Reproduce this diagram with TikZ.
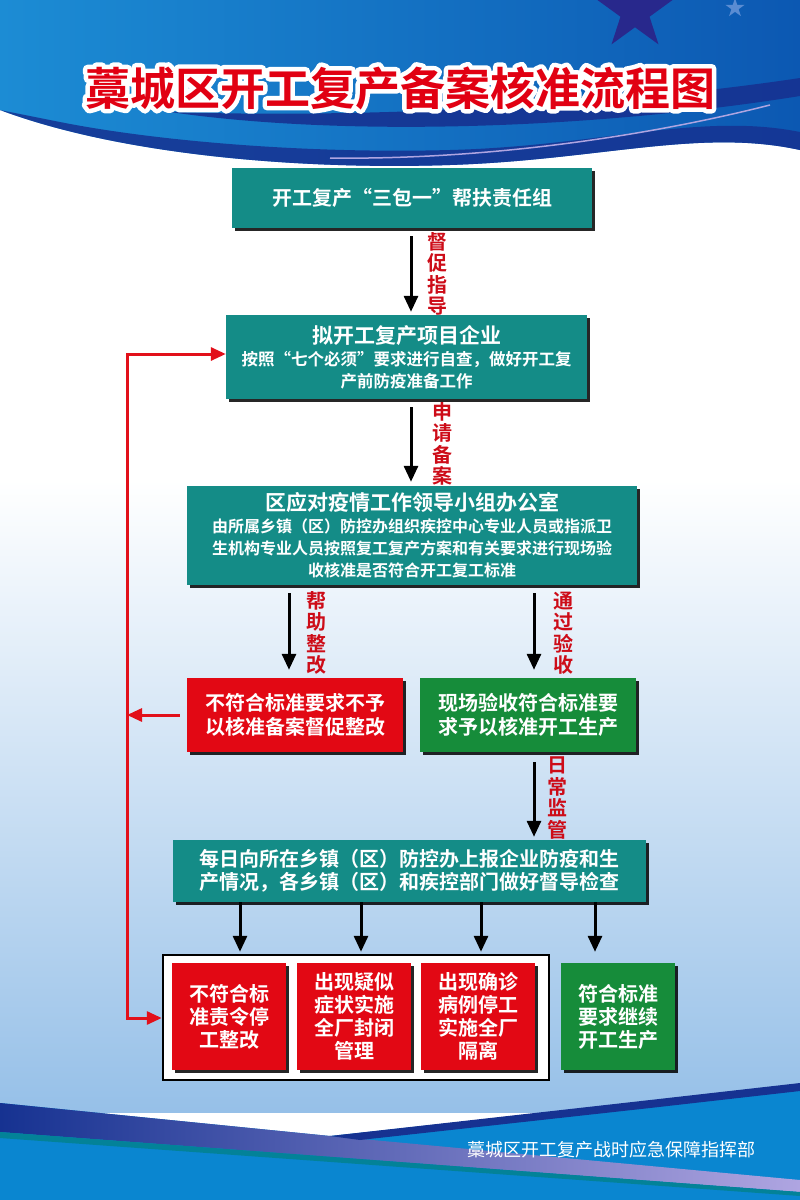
\documentclass[tikz,border=0pt]{standalone}
\usepackage{fontspec}
\setmainfont{Noto Sans CJK SC}[BoldFont=* Bold]
\usetikzlibrary{shadows,arrows.meta,calc,shapes.geometric}
\definecolor{tealbox}{RGB}{20,140,135}
\definecolor{redbox}{RGB}{226,8,20}
\definecolor{greenbox}{RGB}{22,140,58}
\definecolor{labelred}{RGB}{205,12,24}
\definecolor{fbred}{RGB}{226,16,26}
\definecolor{topblueL}{RGB}{28,140,212}
\definecolor{topblueR}{RGB}{12,88,178}
\definecolor{navy}{RGB}{22,50,145}
\definecolor{bgblue}{RGB}{150,192,232}
\definecolor{botblue}{RGB}{10,134,208}
\definecolor{starnavy}{RGB}{40,40,140}
\definecolor{starlight}{RGB}{90,140,210}
\definecolor{titlered}{RGB}{225,0,18}
\definecolor{lavender}{RGB}{175,165,225}
\begin{document}
\begin{tikzpicture}[x=1pt,y=-1pt,
  box/.style={rectangle, inner sep=0pt, text=white, align=center,
    font=\bfseries\fontsize{20}{24}\selectfont,
    drop shadow={shadow xshift=2.5pt, shadow yshift=-2.5pt, fill=black, opacity=0.85}},
  tbox/.style={box, fill=tealbox},
  rbox/.style={box, fill=redbox},
  gbox/.style={box, fill=greenbox},
  vlabel/.style={text=labelred, font=\bfseries\fontsize{20}{21.5}\selectfont, align=center, inner sep=0pt},
  arr/.style={draw=black, line width=3pt, -{Triangle[length=16pt,width=14pt]}},
  fb/.style={draw=fbred, line width=3pt},
  fbtip/.style={-{Triangle[length=15pt,width=13pt]}},
  titlefont/.style={font=\bfseries\fontsize{45}{50}\selectfont, inner sep=0pt},
]
\useasboundingbox (0,0) rectangle (800,1200);
% ---------- background ----------
\fill[white] (0,0) rectangle (800,1200);
\shade[top color=white, bottom color=bgblue] (0,480) rectangle (800,1112);
% top band
\shade[left color=topblueL, right color=topblueR]
  (0,0) -- (800,0) -- (800,150) .. controls (700,128) and (600,160) .. (450,165)
  .. controls (300,170) and (120,155) .. (0,110) -- cycle;
\fill[navy, opacity=0.85]
  (0,110) .. controls (120,155) and (300,170) .. (450,165)
  .. controls (600,160) and (700,128) .. (800,150) -- (800,132)
  .. controls (700,112) and (600,146) .. (450,150)
  .. controls (300,154) and (150,140) .. (60,122) -- cycle;
\fill[navy, opacity=0.9]
  (170,112) .. controls (350,118) and (600,108) .. (800,78) -- (800,96)
  .. controls (600,128) and (350,138) .. (170,112) -- cycle;
\draw[lavender, line width=1.5pt] (330,158) .. controls (480,160) and (640,138) .. (770,105);
\node (star1) [star, star points=5, star point ratio=2.618, minimum size=80pt, inner sep=0pt, fill=starnavy] at (635,12) {};
\node (star2) [star, star points=5, star point ratio=2.618, minimum size=20pt, inner sep=0pt, fill=starlight] at (735,8) {};
% bottom band
\fill[botblue] (0,1103) -- (330,1136) -- (800,1085) -- (800,1200) -- (0,1200) -- cycle;
\shade[left color=navy, right color=lavender]
  (0,1103) -- (330,1136) -- (800,1180) -- (800,1192) -- (0,1132) -- cycle;
\fill[navy] (330,1136) -- (650,1100) -- (800,1083) -- (800,1091) -- (650,1108) -- (360,1140) -- cycle;
\fill[teal!70!botblue] (0,1132) -- (800,1192) -- (800,1196) -- (0,1138) -- cycle;
% ---------- title (white outline by stroked text, red fill on top) ----------
\node (titleedge) [titlefont, text=white] at (400,88)
  {\special{pdf:literal direct 1 Tr 9 w 1 j}藁城区开工复产备案核准流程图\special{pdf:literal direct 0 Tr}};
\node (title) [titlefont, text=titlered] at (400,88) {藁城区开工复产备案核准流程图};
% ---------- boxes ----------
\node (b1) [tbox, minimum width=360pt, minimum height=60pt, font=\bfseries\fontsize{20}{22}\selectfont] at (412,198)
  {开工复产“三包一”帮扶责任组};
\node (b2) [tbox, minimum width=361pt, minimum height=84pt, font=\bfseries\fontsize{16.5}{22}\selectfont] at (406.5,357)
  {{\fontsize{21}{22}\selectfont 拟开工复产项目企业}\\按照“七个必须”要求进行自查，做好开工复\\产前防疫准备工作};
\node (b3) [tbox, minimum width=450pt, minimum height=99pt, font=\bfseries\fontsize{16}{22}\selectfont] at (412,535.5)
  {{\fontsize{21}{22}\selectfont 区应对疫情工作领导小组办公室}\\由所属乡镇（区）防控办组织疾控中心专业人员或指派卫\\生机构专业人员按照复工复产方案和有关要求进行现场验\\收核准是否符合开工复工标准};
\node (rb) [rbox, minimum width=216pt, minimum height=74pt] at (295,715)
  {不符合标准要求不予\\以核准备案督促整改};
\node (gb) [gbox, minimum width=216pt, minimum height=74pt] at (528,715)
  {现场验收符合标准要\\求予以核准开工生产};
\node (b4) [tbox, minimum width=473pt, minimum height=62pt, font=\bfseries\fontsize{20}{23}\selectfont] at (409.5,871)
  {每日向所在乡镇（区）防控办上报企业防疫和生\\产情况，各乡镇（区）和疾控部门做好督导检查};
\node (grp) [draw=black, line width=2.5pt, fill=white, minimum width=386pt, minimum height=125pt, inner sep=0pt] at (356,1017.5) {};
\node (rs1) [rbox, minimum width=114pt, minimum height=107pt, font=\bfseries\fontsize{20}{23}\selectfont] at (229,1016.5)
  {不符合标\\准责令停\\工整改};
\node (rs2) [rbox, minimum width=114pt, minimum height=107pt, font=\bfseries\fontsize{20}{23}\selectfont] at (354,1016.5)
  {出现疑似\\症状实施\\全厂封闭\\管理};
\node (rs3) [rbox, minimum width=114pt, minimum height=107pt, font=\bfseries\fontsize{20}{23}\selectfont] at (478,1016.5)
  {出现确诊\\病例停工\\实施全厂\\隔离};
\node (gs) [gbox, minimum width=114pt, minimum height=107pt, font=\bfseries\fontsize{20}{23}\selectfont] at (618,1016.5)
  {符合标准\\要求继续\\开工生产};
% ---------- labels ----------
\node (l1) [vlabel] at (437,274) {督\\促\\指\\导};
\node (l2) [vlabel] at (442,444) {申\\请\\备\\案};
\node (l3) [vlabel] at (316,633) {帮\\助\\整\\改};
\node (l4) [vlabel] at (563,633) {通\\过\\验\\收};
\node (l5) [vlabel] at (557,798) {日\\常\\监\\管};
\node (foot) [text=white, font=\fontsize{18}{20}\selectfont, inner sep=0pt] at (611,1150) {藁城区开工复产战时应急保障指挥部};
% ---------- connectors ----------
\coordinate (cA) at (411,0);
\coordinate (cL) at (289,0);
\coordinate (cR) at (534,0);
\coordinate (k1) at (240,0);
\coordinate (k2) at (361,0);
\coordinate (k3) at (481,0);
\coordinate (k4) at (595,0);
\coordinate (lx) at (127,0);
\coordinate (top) at (0,354);
\coordinate (bot) at (0,1018);
\draw[arr, shorten <=8pt, shorten >=3pt] (b1.south -| cA) -- (b2.north -| cA);
\draw[arr, shorten <=8pt, shorten >=4pt] (b2.south -| cA) -- (b3.north -| cA);
\draw[arr, shorten <=8pt, shorten >=8pt] (b3.south -| cL) -- (rb.north -| cL);
\draw[arr, shorten <=8pt, shorten >=8pt] (b3.south -| cR) -- (gb.north -| cR);
\draw[arr, shorten <=10pt, shorten >=3pt] (gb.south -| cR) -- (b4.north -| cR);
\draw[arr, shorten >=2pt] (b4.south -| k1) -- (grp.north -| k1);
\draw[arr, shorten >=2pt] (b4.south -| k2) -- (grp.north -| k2);
\draw[arr, shorten >=2pt] (b4.south -| k3) -- (grp.north -| k3);
\draw[arr, shorten >=11pt] (b4.south -| k4) -- (gs.north -| k4);
% feedback
\draw[fb, line cap=rect] (lx |- bot) -- (lx |- top);
\draw[fb, fbtip] (lx |- top) -- (b2.west |- top);
\draw[fb, fbtip] (lx |- bot) -- (grp.west |- bot);
\draw[fb, fbtip, shorten <=7pt] (rb.west) -- (lx |- rb.west);
\end{tikzpicture}
\end{document}
